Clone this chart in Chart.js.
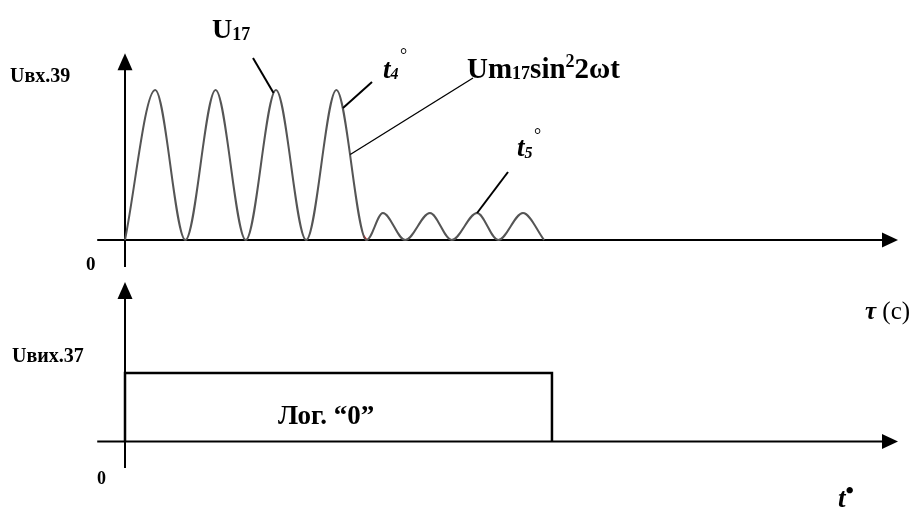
<!DOCTYPE html>
<html>
<head>
<meta charset="utf-8">
<script src="https://cdn.jsdelivr.net/npm/chart.js@4"></script>
<style>
body { margin: 0; background: #fff; }
canvas { display: block; }
</style>
</head>
<body>
<canvas id="myChart" width="915" height="509"></canvas>
<script>
// input Uвх.39 : troughs and peaks of the wave
// (time in periods of the big wave)
let waveTime = [0, 0.5, 1, 1.5, 2, 2.5, 3, 3.5, 4, 4.27, 4.64, 5.05, 5.41, 5.83, 6.18, 6.59, 6.94];
let waveLevel = [0, 1, 0, 1, 0, 1, 0, 1, 0, 0.18, 0, 0.18, 0, 0.18, 0, 0.18, 0];

// small red piece at the foot of the last big wave
let redTime = [3.95, 4.0];
let redLevel = [0.028, 0];

// output Uвих.37 : the Лог. "0" pulse
let pulseTime = [0, 0, 7.07, 7.07];
let pulseLevel = [0, 1, 1, 0];

function toPoints(xs, ys) {
    return xs.map(function (x, i) { return { x: x, y: ys[i] }; });
}

const serif = '"Liberation Serif", "Times New Roman", serif';

// text with sub / superscripts : list of [text, font, dy]
function drawRuns(ctx, x, y, runs) {
    runs.forEach(function (r) {
        ctx.font = r[1];
        ctx.fillText(r[0], x, y + r[2]);
        x += ctx.measureText(r[0]).width;
    });
}

function line(ctx, x1, y1, x2, y2, w) {
    ctx.lineWidth = w;
    ctx.beginPath();
    ctx.moveTo(x1, y1);
    ctx.lineTo(x2, y2);
    ctx.stroke();
}

function arrowUp(ctx, x, y) {
    ctx.beginPath();
    ctx.moveTo(x, y);
    ctx.lineTo(x - 7.5, y + 17);
    ctx.lineTo(x + 7.5, y + 17);
    ctx.closePath();
    ctx.fill();
}

function arrowRight(ctx, x, y) {
    ctx.beginPath();
    ctx.moveTo(x, y);
    ctx.lineTo(x - 16, y - 7.5);
    ctx.lineTo(x - 16, y + 7.5);
    ctx.closePath();
    ctx.fill();
}

// axes with arrows, drawn through the scales
let axesPlugin = {
    id: 'axes',
    beforeDatasetsDraw: function (chart) {
        let ctx = chart.ctx;
        let x = chart.scales.x;
        let yT = chart.scales.yTop;
        let yB = chart.scales.yBot;
        let x0 = x.getPixelForValue(0);
        let xStart = x.getPixelForValue(-0.46);
        let xEnd = x.getPixelForValue(12.8);
        ctx.save();
        ctx.strokeStyle = '#000';
        ctx.fillStyle = '#000';

        // top plot
        let top0 = yT.getPixelForValue(0);
        line(ctx, xStart, top0, xEnd - 10, top0, 2);
        arrowRight(ctx, xEnd, top0);
        line(ctx, x0, yT.getPixelForValue(-0.18), x0, yT.getPixelForValue(1.245) + 10, 2);
        arrowUp(ctx, x0, yT.getPixelForValue(1.245));

        // bottom plot
        let bot0 = yB.getPixelForValue(0);
        line(ctx, xStart, bot0, xEnd - 10, bot0, 2);
        arrowRight(ctx, xEnd, bot0);
        line(ctx, x0, yB.getPixelForValue(-0.387), x0, yB.getPixelForValue(2.33) + 10, 2);
        arrowUp(ctx, x0, yB.getPixelForValue(2.33));
        ctx.restore();
    },
    afterDraw: function (chart) {
        let ctx = chart.ctx;
        let x = chart.scales.x;
        let yT = chart.scales.yTop;
        function px(t) { return x.getPixelForValue(t); }
        function py(v) { return yT.getPixelForValue(v); }

        ctx.save();
        ctx.fillStyle = '#000';
        ctx.strokeStyle = '#000';
        ctx.textBaseline = 'alphabetic';

        // leader lines from the labels to the curve
        line(ctx, 253, 58, px(2.46), py(0.98), 2);
        line(ctx, 372, 82, px(3.61), py(0.88), 2);
        line(ctx, 473, 78, px(3.73), py(0.57), 1.3);
        line(ctx, 508, 172, px(5.83), py(0.18), 2);

        let b = 'bold ';
        let bi = 'italic bold ';

        drawRuns(ctx, 10, 82, [['Uвх.39', b + '20px ' + serif, 0]]);
        drawRuns(ctx, 86, 270, [['0', b + '19px ' + serif, 0]]);

        drawRuns(ctx, 212, 38, [['U', b + '28px ' + serif, 0], ['17', b + '18px ' + serif, 2]]);

        drawRuns(ctx, 383, 78, [['t', bi + '27px ' + serif, 0], ['4', bi + '16px ' + serif, 1]]);
        drawRuns(ctx, 400, 61, [['°', '18px ' + serif, 0]]);

        drawRuns(ctx, 467, 78, [
            ['U', b + '29px ' + serif, 0],
            ['m', b + '29px ' + serif, 0],
            ['17', b + '18px ' + serif, 1],
            ['sin', b + '29px ' + serif, 0],
            ['2', b + '18px ' + serif, -11],
            ['2ωt', b + '29px ' + serif, 0]
        ]);

        drawRuns(ctx, 517, 156, [['t', bi + '27px ' + serif, 0], ['5', bi + '16px ' + serif, 2]]);
        drawRuns(ctx, 534, 141, [['°', '18px ' + serif, 0]]);

        drawRuns(ctx, 865, 319, [['τ', bi + '25px ' + serif, 0], [' (c)', '25px ' + serif, 0]]);

        drawRuns(ctx, 12, 362, [['Uвих.37', b + '20px ' + serif, 0]]);
        drawRuns(ctx, 97, 484, [['0', b + '18px ' + serif, 0]]);
        drawRuns(ctx, 278, 424, [['Лог. “0”', b + '27px ' + serif, 0]]);
        drawRuns(ctx, 838, 507, [['t', bi + '27px ' + serif, 0], ['•', b + '24px ' + serif, -9]]);
        ctx.restore();
    }
};

let config = {
    type: 'line',
    data: {
        datasets: [{
            label: 'Uвх.39',
            data: toPoints(waveTime, waveLevel),
            yAxisID: 'yTop',
            borderColor: '#555555',
            borderWidth: 2,
            pointRadius: 0,
            cubicInterpolationMode: 'monotone',
            clip: false
        }, {
            label: 'red',
            data: toPoints(redTime, redLevel),
            yAxisID: 'yTop',
            borderColor: '#ff0000',
            borderWidth: 2,
            pointRadius: 0,
            clip: false
        }, {
            label: 'Uвих.37',
            data: toPoints(pulseTime, pulseLevel),
            yAxisID: 'yBot',
            borderColor: '#000000',
            borderWidth: 2.5,
            pointRadius: 0,
            tension: 0,
            clip: false
        }]
    },
    options: {
        responsive: false,
        animation: false,
        layout: { padding: { left: 125, right: 17, top: 50, bottom: 39 } },
        plugins: {
            legend: { display: false },
            tooltip: { enabled: false }
        },
        scales: {
            x: { type: 'linear', min: 0, max: 12.8, display: false },
            yTop: { type: 'linear', min: -1.5333, max: 1.2667, display: false },
            yBot: { type: 'linear', min: -0.416, max: 5.715, display: false }
        }
    },
    plugins: [axesPlugin]
};

const myChart = new Chart(document.getElementById('myChart'), config);
</script>
</body>
</html>
